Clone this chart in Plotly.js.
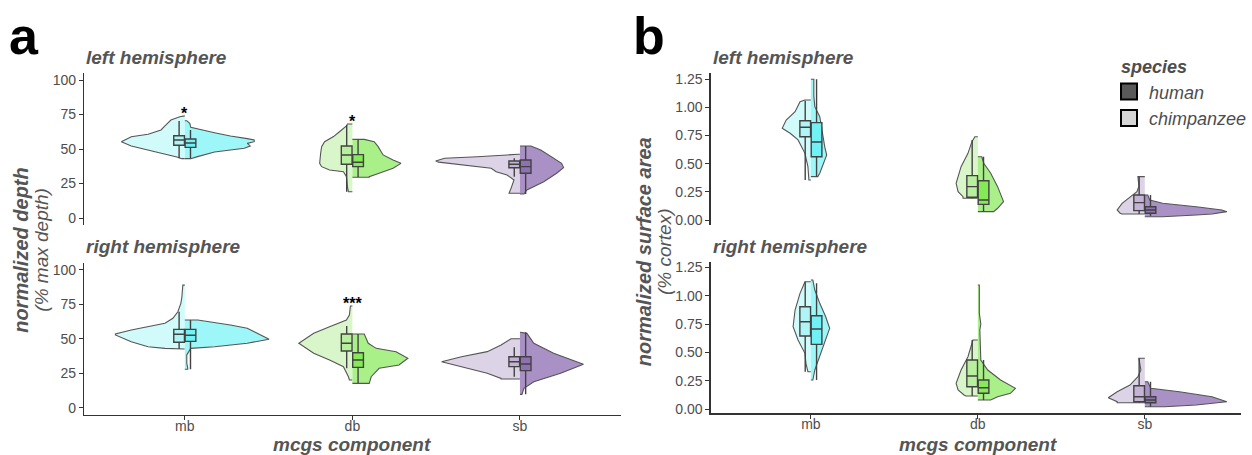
<!DOCTYPE html>
<html><head><meta charset="utf-8">
<script src="https://cdn.plot.ly/plotly-3.0.1.min.js"></script>
<style>html,body{margin:0;padding:0;background:#fff;} #chart{width:1252px;height:455px;}</style>
</head><body><div id="chart"></div>
<script>
// ---------------- data ----------------
const categories = ['mb', 'db', 'sb'];
const catPos = [1, 2, 3];
const speciesNames = ['human', 'chimpanzee'];

// box statistics per category: [lower whisker, q1, median, q3, upper whisker]
const depthLeftChimpBox  = [[43.3, 52.7, 56.5, 59.6, 70.3], [19.0, 38.9, 45.7, 52.2, 67.4], [29.9, 36.4, 38.9, 41.3, 43.3]];
const depthLeftHumanBox  = [[43.3, 51.2, 54.3, 57.2, 63.8], [29.5, 37.2, 40.4, 45.9, 57.0], [17.4, 32.4, 37.2, 42.0, 52.2]];
const depthRightChimpBox = [[42.6, 47.5, 53.3, 56.9, 69.7], [28.6, 41.2, 46.8, 53.5, 59.3], [22.5, 29.8, 33.4, 37.0, 43.9]];
const depthRightHumanBox = [[27.9, 48.2, 52.6, 56.9, 63.7], [17.7, 29.3, 34.6, 39.9, 53.5], [9.7, 26.9, 31.7, 37.0, 54.8]];
const areaLeftChimpBox   = [[0.355, 0.740, 0.824, 0.882, 1.060], [0.193, 0.202, 0.296, 0.394, 0.711], [0.053, 0.083, 0.154, 0.222, 0.385]];
const areaLeftHumanBox   = [[0.385, 0.562, 0.693, 0.865, 1.250], [0.074, 0.139, 0.178, 0.349, 0.562], [0.036, 0.060, 0.089, 0.118, 0.222]];
const areaRightChimpBox  = [[0.331, 0.645, 0.771, 0.903, 1.123], [0.117, 0.199, 0.293, 0.434, 0.610], [0.058, 0.067, 0.111, 0.208, 0.449]];
const areaRightHumanBox  = [[0.258, 0.572, 0.707, 0.824, 1.109], [0.082, 0.141, 0.190, 0.258, 0.434], [0.023, 0.058, 0.082, 0.111, 0.243]];

// violin half profiles per category: [value, density] from bottom to top
const depthLeftChimpViolin = [
  [[43,3],[44,7],[46.4,20],[49.3,37],[52.2,54],[55.3,64],[58.9,54],[60.7,37],[63.8,24],[66.7,20],[71,14],[73.4,5],[74,2]],
  [[19,4],[22.7,5],[29.9,6],[33.5,9],[34.8,23],[37.2,31],[39.6,33],[46.9,32],[51.7,31],[55.3,28],[59,19],[62.5,13],[66.7,6],[68.1,5]],
  [[17.9,11],[21.5,9],[27.5,6],[31.2,13],[33.5,24],[36,29],[38.4,59],[40.5,82],[41.3,85],[43.3,76],[44.4,43],[44.9,26],[45.7,13],[46.2,2]]
];
const depthLeftHumanViolin = [
  [[43,6],[44.3,12],[47.8,30],[49.3,46],[50.5,60],[52.2,66],[54.1,63],[55.3,70],[56.5,70],[57.5,63],[59.4,46],[61.8,30],[64.3,13],[65.7,6],[68.6,5],[70.5,2]],
  [[29.5,17],[29.9,17],[32.4,27],[36,41],[39.6,49],[42,41],[45.7,31],[51.7,26],[55.3,22],[57,12]],
  [[17.4,4],[20.3,7],[26.3,24],[32.4,37],[36.5,44],[39.6,42],[44.4,32],[49.3,21],[52.2,11]]
];
const depthRightChimpViolin = [
  [[42.6,7],[43.1,20],[44.3,37],[47.9,54],[52.8,70],[53.5,70],[56.4,54],[58.8,37],[61.3,20],[64.9,12],[69.7,7],[75.8,4],[80,3],[89,2]],
  [[20.1,3],[22.5,4],[29.8,9],[34.6,23],[39.5,39],[46.8,54],[54,39],[58.8,23],[63.7,6],[67.3,3],[73.9,2]],
  [[20.8,19],[21.3,19],[25,33],[29.8,59],[33.4,79],[37,59],[40.7,33],[45.5,19],[49.7,9],[50.1,9]]
];
const depthRightHumanViolin = [
  [[27.9,3],[28.6,3],[32.2,2],[38.3,2],[43.1,6],[44.3,30],[46.8,63],[49.7,85],[57.7,63],[60,46],[63.7,13]],
  [[17.7,17],[22.5,19],[28.6,27],[31,47],[35.9,56],[40.7,44],[43.1,24],[46.8,16],[53.5,12]],
  [[9.7,2],[14.1,4],[18.9,14],[25,41],[31.5,64],[39.5,34],[46.8,14],[54,7],[54.8,2]]
];
const areaLeftChimpViolin = [
  [[0.355,2],[0.474,3],[0.592,6],[0.711,13],[0.770,21],[0.815,29],[0.888,25],[0.962,16],[1.051,11],[1.066,6]],
  [[0.193,15],[0.207,15],[0.251,20],[0.326,22],[0.474,17],[0.592,10],[0.696,6],[0.740,3]],
  [[0.053,23],[0.060,25],[0.089,28],[0.148,23],[0.207,15],[0.251,8],[0.300,6],[0.385,7]]
];
const areaLeftHumanViolin = [
  [[0.385,7],[0.415,9],[0.489,12],[0.577,16],[0.651,14],[0.770,12],[0.918,9],[1.007,4],[1.100,3],[1.250,3]],
  [[0.074,16],[0.104,20],[0.163,26],[0.296,20],[0.415,13],[0.504,6],[0.562,4]],
  [[0.029,18],[0.044,52],[0.053,68],[0.074,83],[0.089,78],[0.118,52],[0.148,18],[0.178,5],[0.222,3]]
];
const areaRightChimpViolin = [
  [[0.331,3],[0.405,5],[0.493,6],[0.610,13],[0.727,18],[0.874,16],[1.021,11],[1.123,6]],
  [[0.117,12],[0.126,14],[0.170,20],[0.229,22],[0.346,17],[0.463,10],[0.610,5]],
  [[0.058,28],[0.067,28],[0.102,37],[0.155,28],[0.214,15],[0.287,7],[0.346,4],[0.449,6]]
];
const areaRightHumanViolin = [
  [[0.258,2],[0.346,4],[0.463,9],[0.610,15],[0.713,19],[0.815,15],[0.933,9],[1.050,4],[1.138,2]],
  [[0.082,13],[0.111,20],[0.141,33],[0.185,38],[0.258,23],[0.346,10],[0.434,3],[0.698,2],[0.751,3],[0.845,1.5],[1.094,1.5]],
  [[0.023,20],[0.038,52],[0.067,83],[0.111,68],[0.155,35],[0.185,6],[0.243,3]]
];

// significance labels per category
const depthLeftSig  = ['*', '*', ''];
const depthRightSig = ['', '***', ''];
const areaLeftSig   = ['', '', ''];
const areaRightSig  = ['', '', ''];

// ---------------- style ----------------
const FONT = '"Liberation Sans", Arial, Helvetica, sans-serif';
const chimpViolinColors = ['#d1fbfb', '#d8f6ca', '#ddd3e6'];
const humanViolinColors = ['#9df6f8', '#a9f088', '#a990c5'];
const chimpBoxColors    = ['#b0f5f5', '#b8ef9f', '#c4b3d6'];
const humanBoxColors    = ['#6ff1f5', '#84ea55', '#8e70b3'];
const legendColors      = ['#595959', '#d6d6d6'];
const DENS_TO_X = 1 / 169;   // density units -> category units

const panels = [
  {xa: 'x',  ya: 'y',  yb: 'y5', cV: depthLeftChimpViolin,  hV: depthLeftHumanViolin,  cB: depthLeftChimpBox,  hB: depthLeftHumanBox,  sig: depthLeftSig,  sOff: 4},
  {xa: 'x2', ya: 'y2', yb: 'y6', cV: depthRightChimpViolin, hV: depthRightHumanViolin, cB: depthRightChimpBox, hB: depthRightHumanBox, sig: depthRightSig, sOff: 4},
  {xa: 'x3', ya: 'y3', yb: 'y7', cV: areaLeftChimpViolin,   hV: areaLeftHumanViolin,   cB: areaLeftChimpBox,   hB: areaLeftHumanBox,   sig: areaLeftSig,   sOff: 0.04},
  {xa: 'x4', ya: 'y4', yb: 'y8', cV: areaRightChimpViolin,  hV: areaRightHumanViolin,  cB: areaRightChimpBox,  hB: areaRightHumanBox,  sig: areaRightSig,  sOff: 0.04}
];

function violinHalf(profile, pos, side, color, xa, ya) {
  const xs = [pos], ys = [profile[0][0]];
  profile.forEach(([v, d]) => { xs.push(pos + side * d * DENS_TO_X); ys.push(v); });
  xs.push(pos); ys.push(profile[profile.length - 1][0]);
  return {type: 'scatter', mode: 'lines', x: xs, y: ys, fill: 'toself', fillcolor: color,
          line: {color: '#555555', width: 1.1}, xaxis: xa, yaxis: ya, hoverinfo: 'skip', showlegend: false};
}
function boxTrace(stats, pos, group, align, color, xa, ya) {
  return {type: 'box', orientation: 'v', x: [pos], lowerfence: [stats[0]], q1: [stats[1]], median: [stats[2]],
          q3: [stats[3]], upperfence: [stats[4]], offsetgroup: group, alignmentgroup: align,
          fillcolor: color, line: {color: '#424242', width: 1.4}, whiskerwidth: 0, boxpoints: false,
          xaxis: xa, yaxis: ya, hoverinfo: 'skip', showlegend: false};
}

const traces = [];
const annotations = [];
panels.forEach((p, pi) => {
  categories.forEach((c, i) => {
    traces.push(violinHalf(p.cV[i], catPos[i], -1, chimpViolinColors[i], p.xa, p.ya));
    traces.push(violinHalf(p.hV[i], catPos[i], 1, humanViolinColors[i], p.xa, p.ya));
  });
  categories.forEach((c, i) => {
    traces.push(boxTrace(p.cB[i], catPos[i], 'chimpanzee', 'g' + pi, chimpBoxColors[i], p.xa, p.yb));
    traces.push(boxTrace(p.hB[i], catPos[i], 'human', 'g' + pi, humanBoxColors[i], p.xa, p.yb));
  });
  categories.forEach((c, i) => {
    if (!p.sig[i]) return;
    const top = Math.max(p.cV[i][p.cV[i].length - 1][0], p.hV[i][p.hV[i].length - 1][0]);
    annotations.push({xref: p.xa, yref: p.ya, x: catPos[i], y: top + p.sOff, text: '<b>' + p.sig[i] + '</b>',
      showarrow: false, yanchor: 'middle', yshift: -3, font: {family: FONT, size: 16, color: '#000'}});
  });
});
// legend entries
speciesNames.forEach((s, k) => {
  traces.push({type: 'scatter', mode: 'markers', x: [null], y: [null], name: '<i>' + s + '</i>', xaxis: 'x3', yaxis: 'y3',
    marker: {symbol: 'square', size: 16, color: legendColors[k], line: {color: '#000', width: 2}}, showlegend: true, hoverinfo: 'skip'});
});

// ---------------- layout ----------------
const W = 1252, H = 455;
const px = v => v / W, py = v => 1 - v / H;
const tickFont = {family: FONT, size: 14, color: '#4d4d4d'};
const yBase = {showgrid: false, zeroline: false, showline: true, linecolor: '#333', linewidth: 1.3,
  ticks: 'outside', ticklen: 4, tickwidth: 1, tickcolor: '#333', tickfont: tickFont, fixedrange: true};
const xHidden = {showgrid: false, zeroline: false, showline: false, showticklabels: false, ticks: '', type: 'linear', fixedrange: true};
const xShown = {showgrid: false, zeroline: false, showline: true, linecolor: '#333', linewidth: 1.3, ticks: 'outside',
  ticklen: 4, tickwidth: 1, tickcolor: '#333', tickfont: tickFont, tickvals: catPos, ticktext: categories,
  ticklabelstandoff: -6, type: 'linear', fixedrange: true};
const depthTicks = [0, 25, 50, 75, 100];
const areaTicks = [0, 0.25, 0.5, 0.75, 1, 1.25];
const depthRange = [-5, 105];
const areaRangeTop = [-0.04, 1.31];
const areaRangeBot = [-0.035, 1.295];
const xDomA = [px(85), px(626)], xDomB = [px(717), 1];
const xRangeA = [0.4, 3.6], xRangeB = [0.4, 3.576];

const layout = {
  width: W, height: H, margin: {l: 0, r: 0, t: 0, b: 0},
  paper_bgcolor: '#fff', plot_bgcolor: 'rgba(0,0,0,0)',
  font: {family: FONT},
  boxmode: 'group', boxgap: 0.864, boxgroupgap: 0.06,
  showlegend: true,
  legend: {x: px(1119), y: py(50), xanchor: 'left', yanchor: 'top', bgcolor: 'rgba(0,0,0,0)',
    title: {text: '<b><i>\u00a0\u00a0species</i></b>', font: {family: FONT, size: 18, color: '#4d4d4d'}},
    font: {family: FONT, size: 18, color: '#4d4d4d'}, itemwidth: 30, tracegroupgap: 0},
  xaxis:  Object.assign({}, xHidden, {domain: xDomA, range: xRangeA, anchor: 'y'}),
  xaxis2: Object.assign({}, xShown,  {domain: xDomA, range: xRangeA, anchor: 'y2'}),
  xaxis3: Object.assign({}, xHidden, {domain: xDomB, range: xRangeB, anchor: 'y3'}),
  xaxis4: Object.assign({}, xShown,  {domain: xDomB, range: xRangeB, anchor: 'y4'}),
  yaxis:  Object.assign({}, yBase, {domain: [py(224.9), py(73.1)], range: depthRange, tickvals: depthTicks, anchor: 'x'}),
  yaxis2: Object.assign({}, yBase, {domain: [py(414.6), py(263.1)], range: depthRange, tickvals: depthTicks, anchor: 'x2'}),
  yaxis3: Object.assign({}, yBase, {domain: [py(224.5), py(72.5)], range: areaRangeTop, tickvals: areaTicks, tickformat: '.2f', anchor: 'x3'}),
  yaxis4: Object.assign({}, yBase, {domain: [py(413.3), py(262.2)], range: areaRangeBot, tickvals: areaTicks, tickformat: '.2f', anchor: 'x4'}),
  yaxis5: {overlaying: 'y',  anchor: 'x',  range: depthRange,   visible: false, fixedrange: true},
  yaxis6: {overlaying: 'y2', anchor: 'x2', range: depthRange,   visible: false, fixedrange: true},
  yaxis7: {overlaying: 'y3', anchor: 'x3', range: areaRangeTop, visible: false, fixedrange: true},
  yaxis8: {overlaying: 'y4', anchor: 'x4', range: areaRangeBot, visible: false, fixedrange: true},
  annotations: annotations.concat([
    {xref: 'paper', yref: 'paper', x: px(7), y: py(36), xanchor: 'left', yanchor: 'middle', showarrow: false,
     text: '<b>a</b>', font: {family: FONT, size: 52, color: '#000'}},
    {xref: 'paper', yref: 'paper', x: px(637), y: py(36), xanchor: 'left', yanchor: 'middle', showarrow: false,
     text: '<b>b</b>', font: {family: FONT, size: 52, color: '#000'}},
    {xref: 'paper', yref: 'paper', x: px(85), y: py(57), xanchor: 'left', yanchor: 'middle', showarrow: false,
     text: '<b><i>left hemisphere</i></b>', font: {family: FONT, size: 19, color: '#555'}},
    {xref: 'paper', yref: 'paper', x: px(85), y: py(247), xanchor: 'left', yanchor: 'middle', showarrow: false,
     text: '<b><i>right hemisphere</i></b>', font: {family: FONT, size: 19, color: '#555'}},
    {xref: 'paper', yref: 'paper', x: px(717), y: py(57), xanchor: 'left', yanchor: 'middle', showarrow: false,
     text: '<b><i>left hemisphere</i></b>', font: {family: FONT, size: 19, color: '#555'}},
    {xref: 'paper', yref: 'paper', x: px(717), y: py(247), xanchor: 'left', yanchor: 'middle', showarrow: false,
     text: '<b><i>right hemisphere</i></b>', font: {family: FONT, size: 19, color: '#555'}},
    {xref: 'paper', yref: 'paper', x: px(21), y: py(250), xanchor: 'center', yanchor: 'middle', showarrow: false, textangle: -90,
     text: '<b><i>normalized depth</i></b>', font: {family: FONT, size: 20, color: '#555'}},
    {xref: 'paper', yref: 'paper', x: px(41), y: py(250), xanchor: 'center', yanchor: 'middle', showarrow: false, textangle: -90,
     text: '<i>(% max depth)</i>', font: {family: FONT, size: 19, color: '#555'}},
    {xref: 'paper', yref: 'paper', x: px(650), y: py(252), xanchor: 'center', yanchor: 'middle', showarrow: false, textangle: -90,
     text: '<b><i>normalized surface area</i></b>', font: {family: FONT, size: 20, color: '#555'}},
    {xref: 'paper', yref: 'paper', x: px(670), y: py(252), xanchor: 'center', yanchor: 'middle', showarrow: false, textangle: -90,
     text: '<i>(% cortex)</i>', font: {family: FONT, size: 19, color: '#555'}},
    {xref: 'paper', yref: 'paper', x: px(355.5), y: py(444), xanchor: 'center', yanchor: 'middle', showarrow: false,
     text: '<b><i>mcgs component</i></b>', font: {family: FONT, size: 19, color: '#555'}},
    {xref: 'paper', yref: 'paper', x: px(987), y: py(444), xanchor: 'center', yanchor: 'middle', showarrow: false,
     text: '<b><i>mcgs component</i></b>', font: {family: FONT, size: 19, color: '#555'}}
  ])
};

Plotly.newPlot('chart', traces, layout, {displayModeBar: false, staticPlot: true});
</script>
</body></html>
